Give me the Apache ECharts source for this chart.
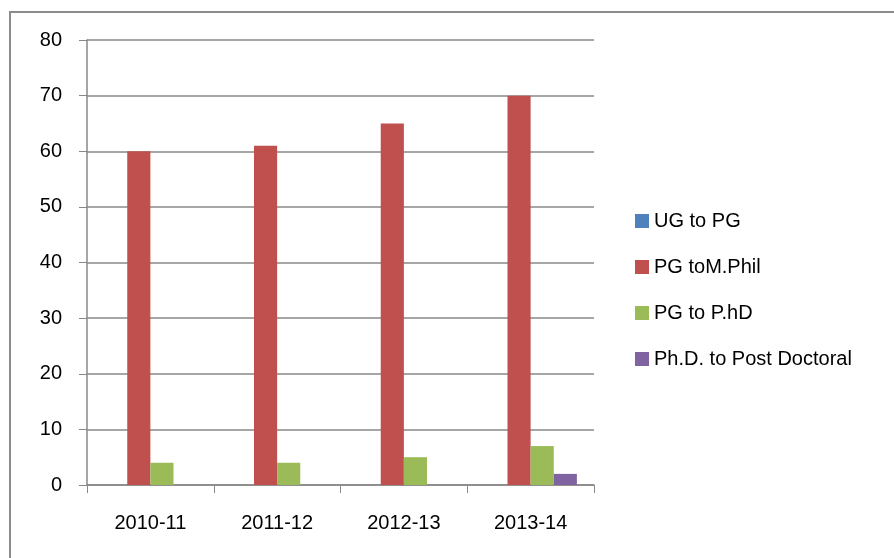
<!DOCTYPE html>
<html>
<head>
    <meta charset="utf-8" />
    <title>Progression</title>
    <style>
        html, body { margin: 0; padding: 0; background: #fff; }
        #chart { width: 894px; height: 558px; }
    </style>
</head>
<body>
    <div id="chart"></div>
    <script src="https://cdn.jsdelivr.net/npm/echarts@6/dist/echarts.min.js"></script>
<script>
    // data
    var years = ["2010-11", "2011-12", "2012-13", "2013-14"];
    var seriesNames = ["UG to PG", "PG toM.Phil", "PG to P.hD", "Ph.D. to Post Doctoral"];
    var ugToPg = [0, 0, 0, 0];
    var pgToMphil = [60, 61, 65, 70];
    var pgToPhd = [4, 4, 5, 7];
    var phdToPostdoc = [0, 0, 0, 2];
    var colors = ["#4f81bd", "#c0504d", "#9bbb59", "#8064a2"];

    var font = "Liberation Sans";
    var myChart = echarts.init(document.getElementById("chart"));

    function bar(name, data, i) {
        return {
            name: name,
            type: "bar",
            data: data,
            barGap: 0,
            barCategoryGap: "27%",
            itemStyle: { color: colors[i] }
        };
    }

    var option = {
        animation: false,
        textStyle: { fontFamily: font },
        graphic: [{
            type: "rect",
            shape: { x: 10, y: 12, width: 900, height: 600 },
            style: { fill: "none", stroke: "#8c8c8c", lineWidth: 2 },
            silent: true
        }],
        grid: { left: 87, right: 300, top: 40, bottom: 73 },
        legend: {
            orient: "vertical",
            left: 635,
            top: 211,
            padding: 0,
            itemWidth: 14,
            itemHeight: 14,
            itemGap: 26,
            icon: "rect",
            data: seriesNames,
            textStyle: { fontFamily: font, fontSize: 20, color: "#000" }
        },
        xAxis: {
            type: "category",
            data: years,
            axisLine: { lineStyle: { color: "#888", width: 1.5 } },
            axisTick: { show: true, length: 8, lineStyle: { color: "#888" } },
            axisLabel: { fontSize: 20, color: "#000", margin: 28, fontFamily: font }
        },
        yAxis: {
            type: "value",
            min: 0,
            max: 80,
            interval: 10,
            axisLine: { show: true, lineStyle: { color: "#888", width: 1.5 } },
            axisTick: { show: true, length: 8, lineStyle: { color: "#888" } },
            splitLine: { lineStyle: { color: "#888", width: 1.5 } },
            axisLabel: { fontSize: 20, color: "#000", margin: 25, fontFamily: font }
        },
        series: [
            bar(seriesNames[0], ugToPg, 0),
            bar(seriesNames[1], pgToMphil, 1),
            bar(seriesNames[2], pgToPhd, 2),
            bar(seriesNames[3], phdToPostdoc, 3)
        ]
    };

    myChart.setOption(option);
</script>
</body>
</html>
